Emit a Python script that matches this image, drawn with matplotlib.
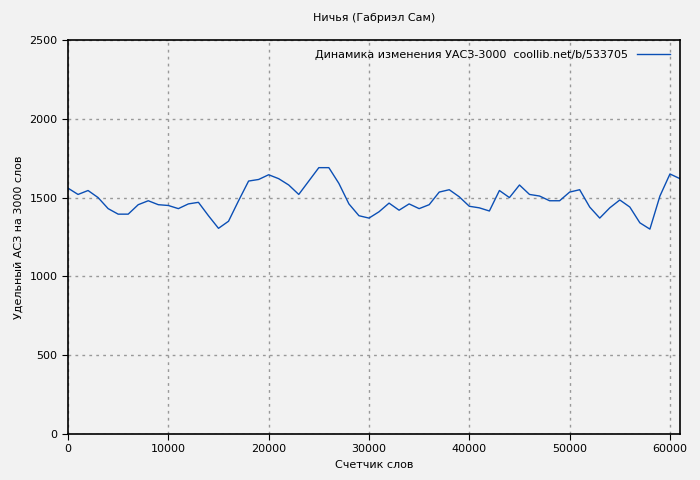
import numpy as np
import matplotlib
matplotlib.use("Agg")
import matplotlib.pyplot as plt

words = np.arange(0, 62000, 1000)
values = [1560, 1520, 1545, 1500, 1430, 1395, 1395, 1455, 1480, 1455,
          1450, 1430, 1460, 1470, 1385, 1305, 1350, 1480, 1605, 1615,
          1645, 1620, 1580, 1520, 1605, 1690, 1690, 1590, 1460, 1385,
          1370, 1410, 1465, 1420, 1460, 1430, 1455, 1535, 1550, 1505,
          1445, 1435, 1415, 1545, 1500, 1580, 1520, 1510, 1480, 1480,
          1535, 1550, 1440, 1370, 1435, 1485, 1440, 1340, 1300, 1510,
          1650, 1620]

fig = plt.figure(figsize=(7, 4.8), dpi=100, facecolor='#f2f2f2')
ax = fig.add_axes([68/700, 46/480, 612/700, 394/480])
ax.set_facecolor('#f2f2f2')
ax.plot(words, values, color='#0b4fb5', lw=1,
        label='Динамика изменения УАСЗ-3000  coollib.net/b/533705')
ax.set_xlim(0, 61000)
ax.set_ylim(0, 2500)
ax.set_xticks(range(0, 61000, 10000))
ax.set_yticks(range(0, 2501, 500))
ax.grid(True, color='#999999', ls=(0, (2, 3)), lw=1)
ax.tick_params(labelsize=8, direction='out', length=4)
for s in ax.spines.values():
    s.set_linewidth(1.2)
ax.set_xlabel('Счетчик слов', fontsize=8)
ax.set_ylabel('Удельный АСЗ на 3000 слов', fontsize=8)
ax.set_title('Ничья (Габриэл Сам)', fontsize=8, pad=14)
leg = ax.legend(loc='upper right', fontsize=8, frameon=False, markerfirst=False,
                handlelength=3)
fig.savefig('out.png', dpi=100, facecolor=fig.get_facecolor())
